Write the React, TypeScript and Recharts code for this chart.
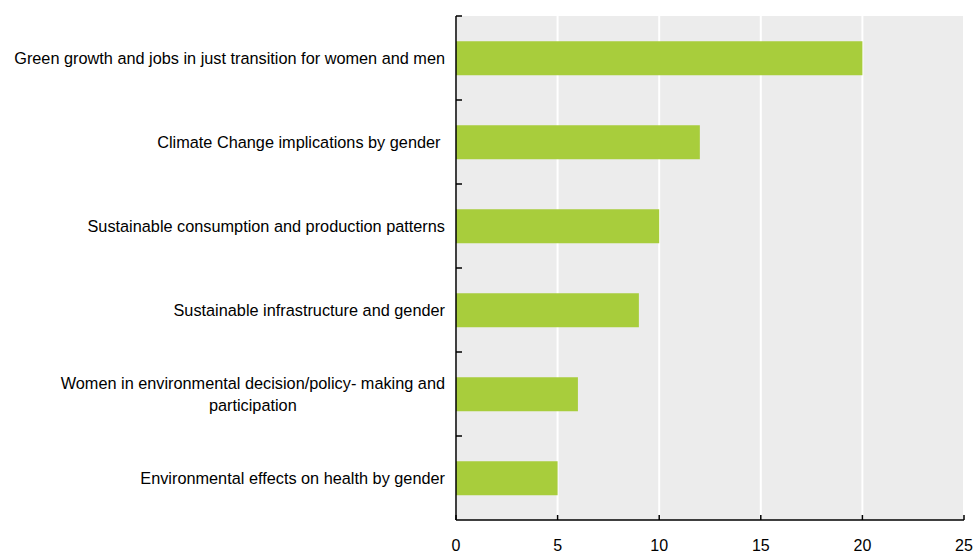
import { BarChart, Bar, XAxis, YAxis, CartesianGrid } from "recharts"

const categories = [
  "Green growth and jobs in just transition for women and men",
  "Climate Change implications by gender ",
  "Sustainable consumption and production patterns",
  "Sustainable infrastructure and gender",
  "Women in environmental decision/policy- making and\nparticipation",
  "Environmental effects on health by gender",
]
const values = [20, 12, 10, 9, 6, 5]
const xTicks = [0, 5, 10, 15, 20, 25]

const data = categories.map((name, i) => ({ name, value: values[i] }))

const FONT = '"Liberation Sans", Arial, sans-serif'
const FONT_SIZE = 16.3
const PLOT_TOP = 16
const PLOT_BOTTOM = 520
const band = (PLOT_BOTTOM - PLOT_TOP) / categories.length

let ctx: CanvasRenderingContext2D | null = null
function textWidth(s: string) {
  if (!ctx) ctx = document.createElement("canvas").getContext("2d")
  ctx!.font = `${FONT_SIZE}px ${FONT}`
  return ctx!.measureText(s).width
}

function CategoryTick({ x, y, payload }: any) {
  const lines = String(payload.value).split("\n")
  const max = Math.max(...lines.map(textWidth))
  const cx = x - 11 - max / 2
  const lh = 22
  const y0 = y - ((lines.length - 1) * lh) / 2
  return (
    <g>
      <line x1={x} x2={x + 6} y1={y - band / 2} y2={y - band / 2} stroke="#000" strokeWidth={1.5} />
      <text
        textAnchor="middle"
        fontFamily={FONT}
        fontSize={FONT_SIZE}
        fill="#000"
        style={{ whiteSpace: "pre" }}
      >
        {lines.map((l, i) => (
          <tspan key={i} x={cx} y={y0 + i * lh} dy="0.35em">
            {l}
          </tspan>
        ))}
      </text>
    </g>
  )
}

function ValueTick({ x, y, payload }: any) {
  return (
    <g>
      <line x1={x} x2={x} y1={y} y2={y - 5} stroke="#000" strokeWidth={1.5} />
      <text x={x} y={y + 25} dy="0.35em" textAnchor="middle" fontFamily={FONT} fontSize={16} fill="#000">
        {payload.value}
      </text>
    </g>
  )
}

export default function App() {
  return (
    <div style={{ position: "absolute", left: 0, top: 0, background: "#fff" }}>
      <BarChart
        width={975}
        height={553}
        data={data}
        layout="vertical"
        barCategoryGap="30%"
        margin={{ top: PLOT_TOP, right: 11, bottom: 0, left: 0 }}
      >
        <CartesianGrid horizontal={false} stroke="#fff" strokeWidth={2} fill="#ececec" />
        <XAxis
          type="number"
          domain={[0, 25]}
          ticks={xTicks}
          height={33}
          tickSize={0}
          tickMargin={0}
          tick={<ValueTick />}
          axisLine={{ stroke: "#000", strokeWidth: 1.5 }}
          interval={0}
        />
        <YAxis
          type="category"
          dataKey="name"
          width={456}
          tickSize={0}
          tickMargin={0}
          tick={<CategoryTick />}
          axisLine={{ stroke: "#000", strokeWidth: 1.5 }}
          interval={0}
        />
        <Bar dataKey="value" fill="#a8cd3c" isAnimationActive={false} />
      </BarChart>
    </div>
  )
}
